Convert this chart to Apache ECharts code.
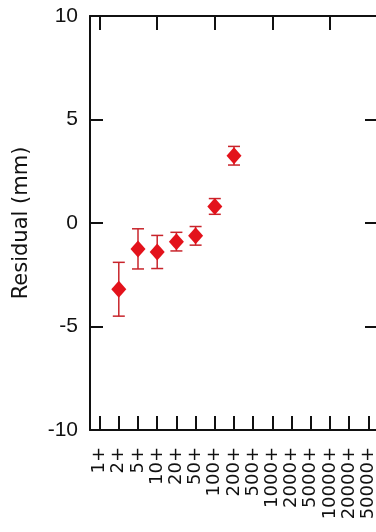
<!DOCTYPE html>
<html>
<head>
<meta charset="utf-8">
<script src="https://cdn.jsdelivr.net/npm/echarts@6/dist/echarts.min.js"></script>
<style>
  html, body { margin: 0; padding: 0; background: #fff; overflow: hidden; }
  #chart { width: 382px; height: 532px; }
</style>
</head>
<body>
<div id="chart"></div>
<script>
// x categories (count bins)
const categories = ['1+', '2+', '5+', '10+', '20+', '50+', '100+', '200+', '500+',
  '1000+', '2000+', '5000+', '10000+', '20000+', '50000+'];
// residual mean per bin (mm)
const residuals = [null, -3.2, -1.25, -1.4, -0.9, -0.62, 0.8, 3.25, null,
  null, null, null, null, null, null];
// half-length of the error bars (mm)
const errors = [null, 1.3, 0.97, 0.8, 0.45, 0.45, 0.38, 0.45, null,
  null, null, null, null, null, null];
const yTicks = [-10, -5, 0, 5, 10];

const red = '#e3121b';
const ink = '#111';

const points = [];
const bars = [];
residuals.forEach((v, i) => {
  if (v === null) return;
  points.push([i, v]);
  bars.push([i, v - errors[i], v + errors[i]]);
});

const myChart = echarts.init(document.getElementById('chart'));
const tickStyle = { show: true, inside: true, length: 14, alignWithLabel: true, lineStyle: { color: ink, width: 2 } };
const lineStyle = { show: true, onZero: false, lineStyle: { color: ink, width: 2 } };

const option = {
  animation: false,
  // the frame runs a bit past the right edge of the window, as in the original crop
  grid: { left: 90, top: 16, right: 4, bottom: 102 },
  xAxis: [
    {
      type: 'category',
      data: categories,
      position: 'bottom',
      boundaryGap: true,
      axisLine: lineStyle,
      axisTick: tickStyle,
      axisLabel: {
        rotate: 90,
        margin: 17,
        interval: 0,
        color: ink,
        fontFamily: 'DejaVu Sans',
        fontSize: 18
      },
      splitLine: { show: false }
    },
    {
      type: 'category',
      data: categories,
      position: 'top',
      boundaryGap: true,
      axisLine: lineStyle,
      axisTick: tickStyle,
      axisLabel: { show: false },
      splitLine: { show: false }
    }
  ],
  yAxis: [
    {
      type: 'value',
      min: yTicks[0],
      max: yTicks[yTicks.length - 1],
      interval: 5,
      position: 'left',
      axisLine: lineStyle,
      axisTick: { show: true, inside: true, length: 13, lineStyle: { color: ink, width: 2 } },
      axisLabel: {
        margin: 12,
        color: ink,
        fontFamily: 'Liberation Sans',
        fontSize: 21
      },
      splitLine: { show: false },
      name: 'Residual (mm)',
      nameLocation: 'middle',
      nameGap: 58,
      nameTextStyle: { color: ink, fontFamily: 'DejaVu Sans', fontSize: 21 }
    },
    {
      type: 'value',
      min: yTicks[0],
      max: yTicks[yTicks.length - 1],
      interval: 5,
      position: 'right',
      axisLine: lineStyle,
      axisTick: { show: true, inside: true, length: 13, lineStyle: { color: ink, width: 2 } },
      axisLabel: { show: false },
      splitLine: { show: false }
    }
  ],
  series: [
    {
      type: 'custom',
      name: 'error',
      data: bars,
      z: 2,
      renderItem: function (params, api) {
        const x = api.value(0);
        const lo = api.coord([x, api.value(1)]);
        const hi = api.coord([x, api.value(2)]);
        const cap = 6;
        const st = { stroke: '#c8242b', lineWidth: 1.5 };
        return {
          type: 'group',
          children: [
            { type: 'line', shape: { x1: lo[0], y1: lo[1], x2: hi[0], y2: hi[1] }, style: st },
            { type: 'line', shape: { x1: lo[0] - cap, y1: lo[1], x2: lo[0] + cap, y2: lo[1] }, style: st },
            { type: 'line', shape: { x1: hi[0] - cap, y1: hi[1], x2: hi[0] + cap, y2: hi[1] }, style: st }
          ]
        };
      }
    },
    {
      type: 'scatter',
      name: 'residual',
      data: points,
      z: 3,
      symbol: 'diamond',
      symbolSize: [15, 17],
      itemStyle: { color: red, opacity: 1 }
    }
  ]
};
option && myChart.setOption(option);
</script>
</body>
</html>
